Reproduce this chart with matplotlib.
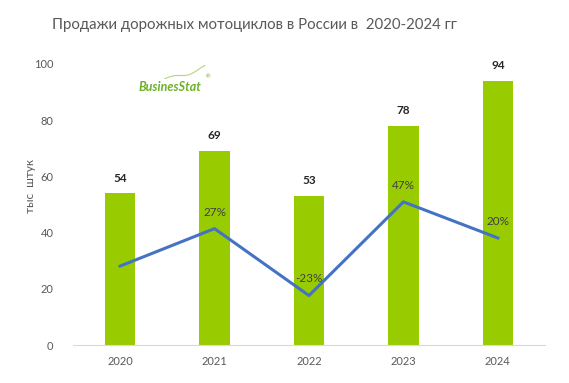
import matplotlib.pyplot as plt
import numpy as np

years = ["2020", "2021", "2022", "2023", "2024"]
sales = [54, 69, 53, 78, 94]
growth = [-1, 27, -23, 47, 20]
growth_labels = ["", "27%", "-23%", "47%", "20%"]

plt.rcParams['font.family'] = ['Lato', 'DejaVu Sans']

fig = plt.figure(figsize=(5.69, 3.83), dpi=100)
ax = fig.add_axes([0.128, 0.099, 0.83, 0.734])
x = np.arange(len(years))

ax.bar(x, sales, width=0.32, color='#99CC00', zorder=2)
for xi, v in zip(x, sales):
    ax.annotate(str(v), (xi, v), xytext=(0, 7), textcoords='offset points',
                ha='center', va='bottom', fontsize=8.5, fontweight='bold', color='#262626')

ax.set_xlim(-0.5, 4.5)
ax.set_ylim(0, 100)
ax.set_yticks([0, 20, 40, 60, 80, 100])
ax.set_xticks(x)
ax.set_xticklabels(years)
ax.tick_params(axis='both', length=0, labelsize=8, labelcolor='#595959')
ax.tick_params(axis='x', pad=8)
ax.tick_params(axis='y', pad=14)
for s in ['top', 'right', 'left']:
    ax.spines[s].set_visible(False)
ax.spines['bottom'].set_color('#D9D9D9')
ax.set_ylabel("тыс  штук", fontsize=8.5, color='#595959')
ax.yaxis.set_label_coords(-0.078, 0.565)

ax2 = ax.twinx()
ax2.set_ylim(-60, 150)
ax2.plot(x, growth, color='#4472C4', linewidth=2.2, zorder=3)
for xi, g, lab in zip(x, growth, growth_labels):
    ax2.annotate(lab, (xi, g), xytext=(0, 8), textcoords='offset points',
                 ha='center', va='bottom', fontsize=8.5, color='#404040')
ax2.axis('off')

# logo
fig.text(0.243, 0.773, "BusinesStat", fontsize=9, fontweight='bold', style='italic',
         color='#6DB02A', ha='left', va='center')
lx = np.linspace(0.29, 0.36, 25)
ly = 0.795 + 0.03 * ((lx - 0.29) / 0.07) ** 1.5 + 0.004 * np.sin((lx - 0.29) * 110)
fig.add_artist(plt.Line2D(lx, ly, color='#B5D67A', linewidth=0.8))
fig.text(0.362, 0.80, "®", fontsize=4, color='#6DB02A', ha='left', va='center')

fig.text(0.447, 0.935, "Продажи дорожных мотоциклов в России в  2020-2024 гг",
         fontsize=10.8, color='#595959', ha='center', va='center')

fig.savefig("out.png", dpi=100)
